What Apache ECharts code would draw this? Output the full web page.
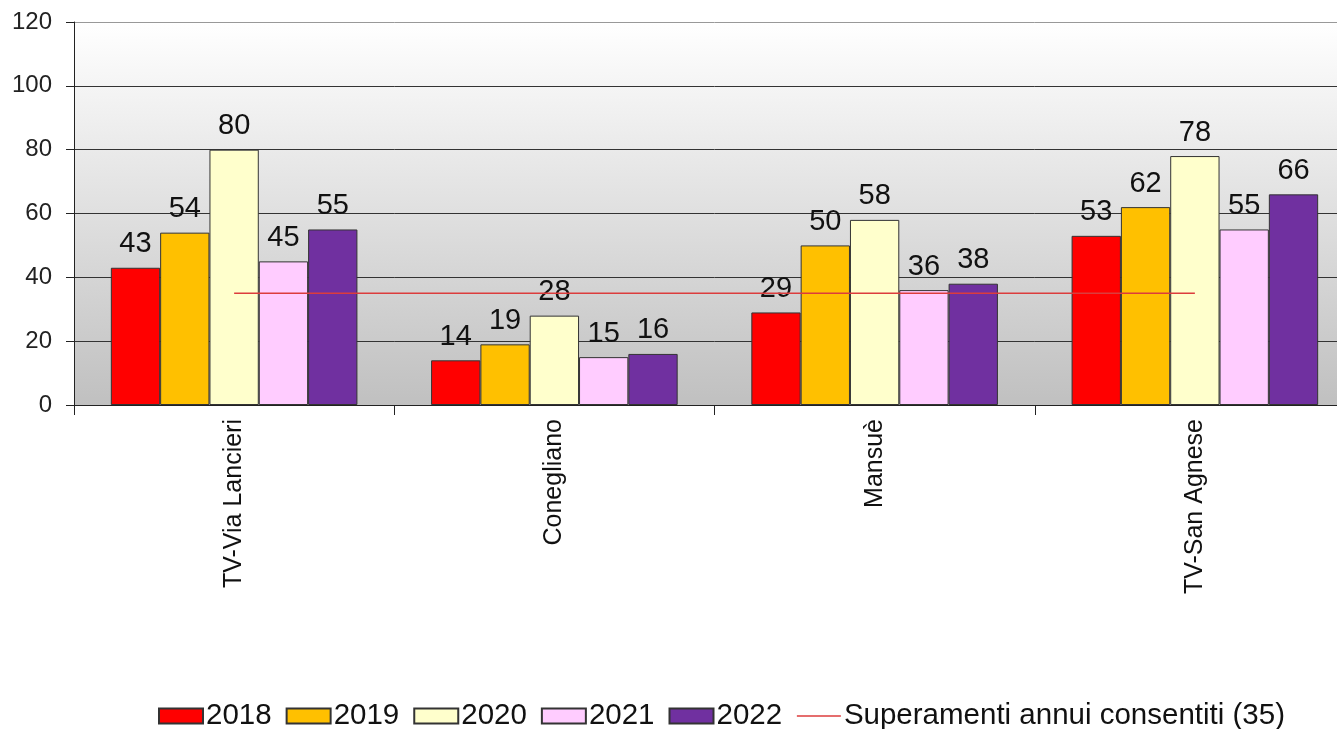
<!DOCTYPE html>
<html>
<head>
<meta charset="utf-8">
<script src="https://cdn.jsdelivr.net/npm/echarts@6/dist/echarts.min.js"></script>
<style>
html,body{margin:0;padding:0;background:#fff;overflow:hidden;width:1337px;height:729px;}
#c{width:1360px;height:729px;}
</style>
</head>
<body>
<div id="c"></div>
<script>
const categories = ['TV-Via Lancieri', 'Conegliano', 'Mansuè', 'TV-San Agnese'];
const years = ['2018', '2019', '2020', '2021', '2022'];
const v2018 = [43, 14, 29, 53];
const v2019 = [54, 19, 50, 62];
const v2020 = [80, 28, 58, 78];
const v2021 = [45, 15, 36, 55];
const v2022 = [55, 16, 38, 66];
const limitName = 'Superamenti annui consentiti (35)';
const limitValues = [35, 35, 35, 35];
const yTicks = [0, 20, 40, 60, 80, 100, 120];

const colors = ['#ff0000', '#ffc000', '#ffffcc', '#ffccff', '#7030a0'];
const seriesValues = [v2018, v2019, v2020, v2021, v2022];
const FONT = 'Liberation Sans, Arial, sans-serif';

const chart = echarts.init(document.getElementById('c'));
const barSeries = years.map((y, i) => ({
  name: y,
  type: 'bar',
  data: seriesValues[i],
  barGap: '0%',
  barCategoryGap: '23%',
  itemStyle: { color: colors[i], borderColor: '#333', borderWidth: 1 },
  label: { show: true, position: 'top', distance: 9, color: '#111', fontSize: 29, fontFamily: FONT },
  z: 2
}));

chart.setOption({
  animation: false,
  textStyle: { fontFamily: FONT },
  grid: {
    left: 74, right: 5, top: 22, bottom: 324, show: true, borderWidth: 0,
    backgroundColor: new echarts.graphic.LinearGradient(0, 0, 0, 1, [
      { offset: 0, color: '#ffffff' },
      { offset: 1, color: '#c0c0c0' }
    ])
  },
  legend: {
    top: 701, left: 158, padding: 0,
    itemWidth: 44, itemHeight: 15, itemGap: 14,
    textStyle: { fontSize: 29.5, color: '#111', fontFamily: FONT, padding: [0, 0, 0, -2] },
    data: years.map(y => ({ name: y, icon: 'rect' })).concat([{
      name: limitName,
      itemStyle: { color: 'rgba(0,0,0,0)', borderColor: 'rgba(0,0,0,0)', borderWidth: 0, opacity: 0 },
      lineStyle: { color: '#dc3c3c', width: 1.5, opacity: 1 }
    }])
  },
  xAxis: {
    type: 'category',
    data: categories,
    axisLine: { lineStyle: { color: '#222', width: 1 } },
    axisTick: { show: true, length: 10, lineStyle: { color: '#222' } },
    axisLabel: { rotate: 90, fontSize: 25, color: '#111', margin: 14, fontFamily: FONT }
  },
  yAxis: {
    type: 'value', min: 0, max: 120, interval: 20,
    axisLine: { show: true, lineStyle: { color: '#222' } },
    axisTick: { show: true, length: 8, lineStyle: { color: '#222' } },
    axisLabel: { fontSize: 24, color: '#222', margin: 22, fontFamily: FONT,
      formatter: v => yTicks.includes(v) ? String(v) : '' },
    splitLine: { show: true, lineStyle: { color: ['#333', '#333', '#333', '#333', '#333', '#333', '#999'], width: 1 } }
  },
  series: barSeries.concat([{
    name: limitName,
    type: 'line',
    data: limitValues,
    symbol: 'none',
    lineStyle: { color: '#dc3c3c', width: 1.5 },
    itemStyle: { color: '#dc3c3c' },
    z: 5
  }])
});
</script>
</body>
</html>
